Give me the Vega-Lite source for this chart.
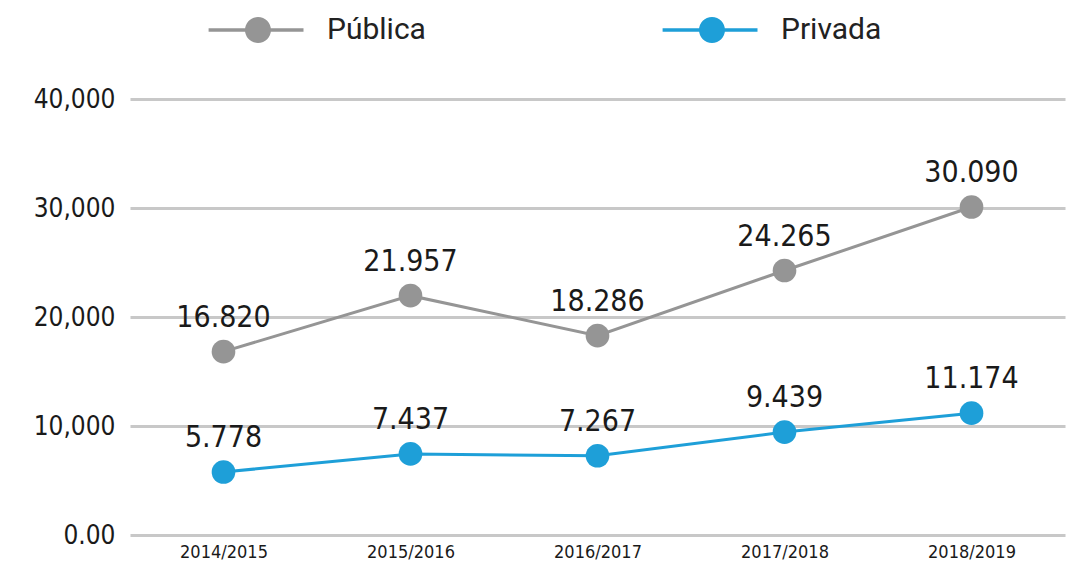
{
  "$schema": "https://vega.github.io/schema/vega-lite/v6.json",
  "width": 935,
  "height": 436,
  "autosize": {"type": "none"},
  "padding": {"left": 130, "top": 99, "right": 6, "bottom": 37},
  "background": "white",
  "config": {
    "view": {"stroke": null},
    "locale": {"number": {"decimal": ",", "thousands": ".", "grouping": [3], "currency": ["", ""]}}
  },
  "data": {
    "values": [
      {"periodo": "2014/2015", "tipo": "Pública", "valor": 16820},
      {"periodo": "2015/2016", "tipo": "Pública", "valor": 21957},
      {"periodo": "2016/2017", "tipo": "Pública", "valor": 18286},
      {"periodo": "2017/2018", "tipo": "Pública", "valor": 24265},
      {"periodo": "2018/2019", "tipo": "Pública", "valor": 30090},
      {"periodo": "2014/2015", "tipo": "Privada", "valor": 5778},
      {"periodo": "2015/2016", "tipo": "Privada", "valor": 7437},
      {"periodo": "2016/2017", "tipo": "Privada", "valor": 7267},
      {"periodo": "2017/2018", "tipo": "Privada", "valor": 9439},
      {"periodo": "2018/2019", "tipo": "Privada", "valor": 11174}
    ]
  },
  "encoding": {
    "x": {
      "field": "periodo", "type": "ordinal",
      "scale": {"type": "point", "padding": 0.5},
      "axis": {
        "title": null, "labelAngle": 0, "domain": false, "ticks": false,
        "labelFont": "DejaVu Sans Condensed, DejaVu Sans, sans-serif",
        "labelFontSize": 18, "labelColor": "#1a1a1a", "labelPadding": 8
      }
    },
    "y": {
      "field": "valor", "type": "quantitative",
      "scale": {"domain": [0, 40000]},
      "axis": {
        "title": null, "values": [0, 10000, 20000, 30000, 40000],
        "labelExpr": "datum.value == 0 ? '0.00' : replace(format(datum.value, ','), '.', ',')",
        "domain": false, "ticks": false, "grid": true,
        "gridColor": "#c8c8c8", "gridWidth": 3,
        "labelFont": "DejaVu Sans Condensed, DejaVu Sans, sans-serif",
        "labelFontSize": 26, "labelColor": "#1a1a1a", "labelPadding": 15
      }
    },
    "color": {
      "field": "tipo", "type": "nominal",
      "scale": {"domain": ["Pública", "Privada"], "range": ["#959595", "#1e9fd8"]},
      "legend": {
        "title": null, "orient": "none", "legendX": 113, "legendY": -84,
        "direction": "horizontal", "padding": 0,
        "symbolType": "M-3.8,-0.14L3.5,-0.14L3.5,0.14L-3.8,0.14Z M1,0A1,1 0 1,1 -1,0A1,1 0 1,1 1,0Z",
        "symbolSize": 676, "symbolStrokeWidth": 0, "symbolOpacity": 1,
        "labelFont": "Roboto", "labelFontSize": 30, "labelColor": "#222222",
        "labelOffset": 54, "columnPadding": 236
      }
    }
  },
  "layer": [
    {"mark": {"type": "line", "strokeWidth": 3}},
    {"mark": {"type": "point", "filled": true, "size": 560, "opacity": 1}},
    {
      "mark": {
        "type": "text", "dy": -34, "baseline": "middle",
        "font": "DejaVu Sans Condensed, DejaVu Sans, sans-serif",
        "fontSize": 30, "color": "#1a1a1a"
      },
      "encoding": {
        "text": {"field": "valor", "type": "quantitative", "format": ","},
        "color": {"value": "#1a1a1a"}
      }
    }
  ]
}
